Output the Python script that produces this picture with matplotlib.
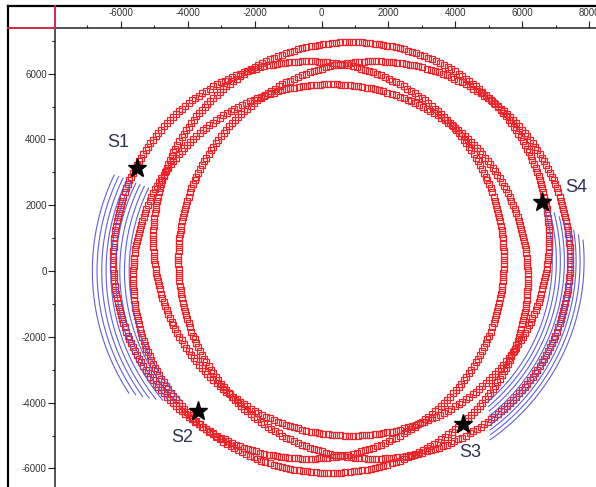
import numpy as np
import matplotlib.pyplot as plt
from matplotlib.lines import Line2D

plt.rcParams['font.family'] = ['Liberation Sans', 'DejaVu Sans']
plt.rcParams['axes.unicode_minus'] = False

# red rings (ellipse centre / half-axes)
ring_cx = [-390, 270, 885, 1575]
ring_cy = [335, -230, 975, 335]
ring_rx = [5840, 5900, 5915, 5855]
ring_ry = [6040, 5905, 5980, 6040]
n_marks = 290

# blue arcs on the left (centre 0,0)
left_cx, left_cy = 0, 0
left_r = [5750, 5890, 6030, 6160, 6300, 6440, 6570, 6710, 6850]
left_start = [154.0, 154.1, 154.2, 154.3, 154.4, 154.5, 154.6, 154.7, 154.8]
left_end = [223.6, 222.3, 220.9, 219.6, 218.2, 216.8, 215.5, 214.1, 212.8]

# blue arcs on the right
right_cx, right_cy = 1200, 300
right_r = [5700, 5820, 5940, 6060, 6170, 6290, 6410, 6530, 6650]
right_start = [17.2, 15.7, 14.3, 12.8, 11.4, 9.9, 8.4, 7.0, 5.5]
right_end = [-48.5, -49.3, -50.0, -50.8, -51.6, -52.4, -53.2, -53.9, -54.7]

# stations
star_names = ['S1', 'S2', 'S3', 'S4']
star_x = [-5510, -3690, 4220, 6590]
star_y = [3140, -4270, -4660, 2100]
label_x = [-6080, -4160, 4460, 7600]
label_y = [3900, -5060, -5520, 2530]

W, H = 596, 487
fig = plt.figure(figsize=(W / 100, H / 100), dpi=100)

# axes box in pixels: left 55, top 28, runs off the right and bottom edges
px_left, px_right, px_top, px_bot = 55, 600, 28, 490
ax = fig.add_axes([px_left / W, 1 - px_bot / H, (px_right - px_left) / W, (px_bot - px_top) / H])
ax.set_xlim((px_left - 321.5) / 33.45 * 1000, (px_right - 321.5) / 33.45 * 1000)
ax.set_ylim((271 - px_bot) / 32.9 * 1000, (271 - px_top) / 32.9 * 1000)

# rings of open squares
for cx, cy, rx, ry in zip(ring_cx, ring_cy, ring_rx, ring_ry):
    t = np.linspace(0, 2 * np.pi, n_marks, endpoint=False)
    ax.plot(cx + rx * np.cos(t), cy + ry * np.sin(t), ls='none', marker='s',
            ms=4.2, mfc='none', mec='#e8262b', mew=0.9, zorder=2)

# blue arcs
for r, a0, a1 in zip(left_r, left_start, left_end):
    t = np.radians(np.linspace(a0, a1, 120))
    ax.plot(left_cx + r * np.cos(t), left_cy + r * np.sin(t), color='#4f4fd8', lw=0.8, alpha=0.9, zorder=3)
for r, a0, a1 in zip(right_r, right_start, right_end):
    t = np.radians(np.linspace(a0, a1, 120))
    ax.plot(right_cx + r * np.cos(t), right_cy + r * np.sin(t), color='#4f4fd8', lw=0.8, alpha=0.9, zorder=3)

# stars and labels
ax.plot(star_x, star_y, ls='none', marker='*', ms=14, color='black', zorder=4)
for name, lx, ly in zip(star_names, label_x, label_y):
    ax.text(lx, ly, name, fontsize=13, color='#2d3350', ha='center', va='center', zorder=5)

# axis on top and left
ax.xaxis.tick_top()
ax.set_xticks(np.arange(-6000, 8001, 2000))
ax.set_xticks(np.arange(-7000, 8001, 1000), minor=True)
ax.set_yticks(np.arange(-6000, 6001, 2000))
ax.set_yticks(np.arange(-6000, 7001, 1000), minor=True)
ax.tick_params(which='major', direction='out', length=5, width=0.8, labelsize=7,
               colors='#222222', labelcolor='#333333')
ax.tick_params(which='minor', direction='out', length=2.5, width=0.8, colors='#222222')
ax.tick_params(axis='x', which='both', top=True, bottom=False, labeltop=True, labelbottom=False, pad=2)
ax.tick_params(axis='y', which='both', left=True, right=False, pad=1)
ax.spines['right'].set_visible(False)
ax.spines['bottom'].set_visible(False)
for s in ['top', 'left']:
    ax.spines[s].set_linewidth(1.1)
    ax.spines[s].set_color('#222222')


def px_line(x0, y0, x1, y1, color, lw):
    fig.add_artist(Line2D([x0 / W, x1 / W], [1 - y0 / H, 1 - y1 / H],
                          transform=fig.transFigure, color=color, lw=lw))


# window frame around the plot
px_line(8, 6, W, 6, 'black', 1.6)
px_line(8, 6, 8, H, 'black', 1.6)
px_line(8, 28, 55, 28, '#d02848', 1.4)
px_line(55, 6, 55, 28, '#d02848', 1.4)

fig.savefig('out.png', dpi=100)
